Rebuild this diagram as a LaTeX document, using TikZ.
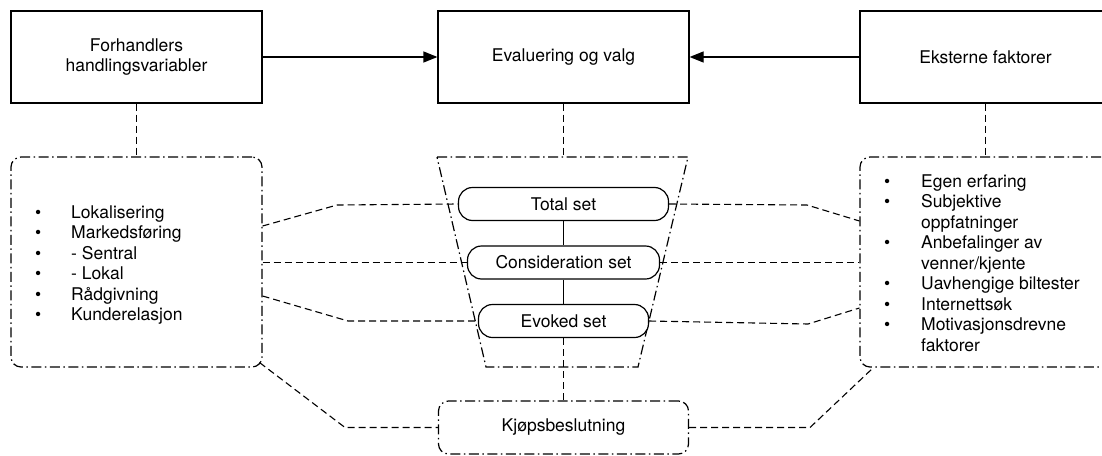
\documentclass[tikz,border=0pt]{standalone}
\usepackage{fontspec}
\setmainfont{TeX Gyre Heros}
\usetikzlibrary{arrows.meta,calc}

% bullet markers for the two lists
\newcommand\itmL{\makebox[36pt][l]{•}}
\newcommand\itmR{\makebox[37pt][l]{•}}
\newcommand\contR{\hspace*{37pt}}

\begin{document}
\begin{tikzpicture}[x=1pt,y=-1pt,
  every node/.style={font=\fontsize{17.5}{20.5}\selectfont, inner sep=0pt},
  solidbox/.style={draw, line width=1.2pt, minimum width=251pt, minimum height=92pt, align=center},
  setbox/.style={draw, fill=white, line width=1.2pt, rounded corners=14pt, minimum height=33pt},
  dashdot/.style={line width=1.2pt, dash pattern=on 10pt off 3.5pt on 1.5pt off 3.5pt},
  groupbox/.style={draw, dashdot, rounded corners=10pt},
  link/.style={line width=1.1pt, dash pattern=on 7pt off 4pt},
  arrowline/.style={line width=1.2pt, -{Triangle[length=14pt,width=11pt]}}
]
\useasboundingbox (0,0) rectangle (1102,455);
\clip (0,0) rectangle (1102,455);

% top row
\node[solidbox] (fh) at (136.5,57) {Forhandlers\\handlingsvariabler};
\node[solidbox] (ev) at (563.5,57) {Evaluering og valg};
\node[solidbox] (ek) at (985.5,57) {Eksterne faktorer};

\draw[arrowline] (fh.east) -- (ev.west);
\draw[arrowline] (ek.west) -- (ev.east);

% side groups
\node[groupbox, minimum width=251pt, minimum height=210pt] (lg) at (136.5,262) {};
\node[groupbox, minimum width=251pt, minimum height=210pt] (rg) at (985.5,262) {};

\node[anchor=base west] (llist) at (35,218) {\begin{tabular}[t]{@{}l@{}}
\itmL Lokalisering\\
\itmL Markedsføring\\
\itmL - Sentral\\
\itmL - Lokal\\
\itmL Rådgivning\\
\itmL Kunderelasjon
\end{tabular}};

\node[anchor=base west] (rlist) at (884,187) {\begin{tabular}[t]{@{}l@{}}
\itmR Egen erfaring\\
\itmR Subjektive\\
\contR oppfatninger\\
\itmR Anbefalinger av\\
\contR venner/kjente\\
\itmR Uavhengige biltester\\
\itmR Internettsøk\\
\itmR Motivasjonsdrevne\\
\contR faktorer
\end{tabular}};

% funnel
\coordinate (ftop) at (563.5,157);
\draw[dashdot] (437,157) -- (688,157) -- (638,367) -- (486,367) -- cycle;

\node[setbox, minimum width=210pt] (ts) at (563.5,204) {Total set};
\node[setbox, minimum width=192pt] (cs) at (563.5,262.5) {Consideration set};
\node[setbox, minimum width=170pt] (es) at (563.5,321) {Evoked set};
\draw[line width=1.2pt] (ts.south) -- (cs.north);
\draw[line width=1.2pt] (cs.south) -- (es.north);

\node[groupbox, minimum width=250pt, minimum height=53pt] (kb) at (563.5,427.5) {Kjøpsbeslutning};

% dashed links
\draw[link] (fh.south) -- (lg.north);
\draw[link] (ev.south) -- (ftop);
\draw[link] (ek.south) -- (rg.north);
\draw[link] (es.south) -- (kb.north);

\draw[link] ($(lg.east)+(0,-36)$) -- (337,205) -- (ts.west);
\draw[link] ($(lg.east)+(0,0.5)$) -- (cs.west);
\draw[link] ($(lg.east)+(0,34)$) -- (348,321) -- (es.west);
\draw[link] ($(lg.south east)+(-3,-5)$) -- (345,427.5) -- (kb.west);

\draw[link] (ts.east) -- (807,205) -- ($(rg.west)+(0,-41)$);
\draw[link] (cs.east) -- ($(rg.west)+(0,0.5)$);
\draw[link] (es.east) -- (808,324) -- ($(rg.west)+(0,46)$);
\draw[link] (kb.east) -- (810,427.5) -- ($(rg.south west)+(14,0)$);
\end{tikzpicture}
\end{document}
